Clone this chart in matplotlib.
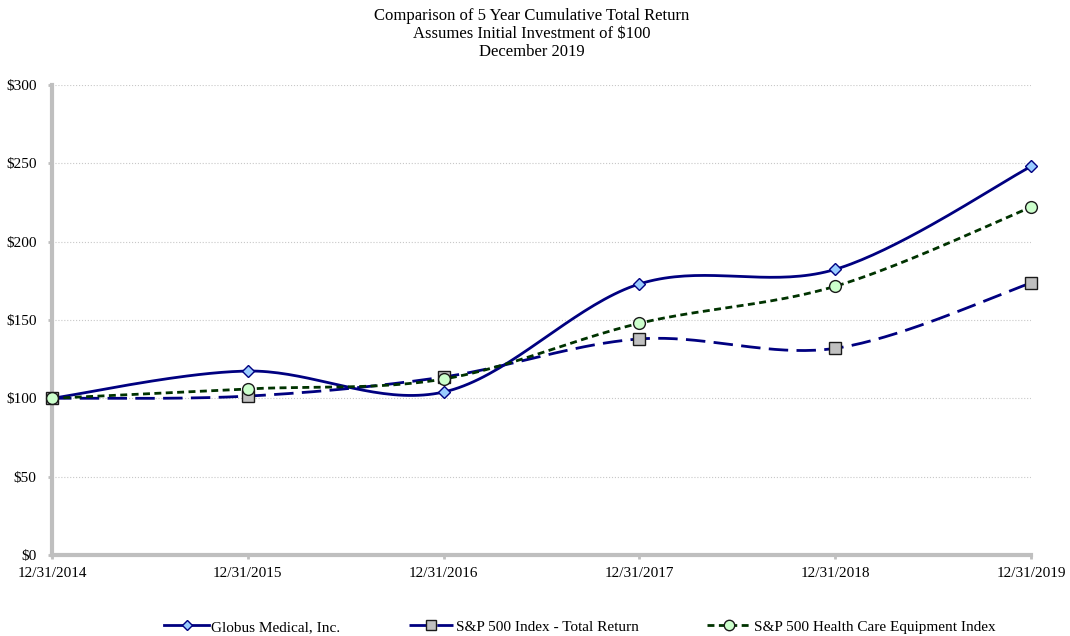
import numpy as np
import matplotlib.pyplot as plt
from matplotlib.lines import Line2D

# Datos
fechas = ["12/31/2014", "12/31/2015", "12/31/2016", "12/31/2017", "12/31/2018", "12/31/2019"]
globus = [100, 117.4, 104.0, 173.0, 182.3, 248.0]
sp500 = [100, 101.4, 113.6, 137.9, 131.9, 173.6]
hc_equip = [100, 106.0, 112.3, 147.9, 171.5, 222.0]

plt.rcParams["font.family"] = ["Liberation Serif", "DejaVu Serif"]


def suavizar(x, y, n=40):
    # curva tipo Excel (Catmull-Rom con tangentes a 1/6)
    x = np.asarray(x, float)
    y = np.asarray(y, float)
    px, py = [], []
    for i in range(len(x) - 1):
        x0, y0 = (x[i - 1], y[i - 1]) if i > 0 else (x[i], y[i])
        x3, y3 = (x[i + 2], y[i + 2]) if i + 2 < len(x) else (x[i + 1], y[i + 1])
        x1, y1, x2, y2 = x[i], y[i], x[i + 1], y[i + 1]
        c1x, c1y = x1 + (x2 - x0) / 6, y1 + (y2 - y0) / 6
        c2x, c2y = x2 - (x3 - x1) / 6, y2 - (y3 - y1) / 6
        t = np.linspace(0, 1, n)
        a, b, c, d = (1 - t) ** 3, 3 * t * (1 - t) ** 2, 3 * t ** 2 * (1 - t), t ** 3
        px.extend(a * x1 + b * c1x + c * c2x + d * x2)
        py.extend(a * y1 + b * c1y + c * c2y + d * y2)
    return np.array(px), np.array(py)


fig = plt.figure(figsize=(10.7, 6.36), dpi=100)
ax = fig.add_axes([0.0486, 0.1274, 0.915, 0.739])

xs = np.arange(len(fechas))
azul = "#000080"
verde = "#003300"

series = [
    (globus, azul, "-", "D", "#99ccff", 6.5, "Globus Medical, Inc."),
    (sp500, azul, (0, (7, 3)), "s", "#c0c0c0", 8, "S&P 500 Index - Total Return"),
    (hc_equip, verde, (0, (2.5, 1.6)), "o", "#ccffcc", 8.5, "S&P 500 Health Care Equipment Index"),
]

handles = []
for vals, col, ls, mk, fc, ms, lab in series:
    sx, sy = suavizar(xs, vals)
    ax.plot(sx, sy, color=col, linestyle=ls, linewidth=2.0, zorder=3)
    borde = col if mk == "D" else "#1a1a1a"
    ax.plot(xs, vals, linestyle="none", marker=mk, markersize=ms,
            markerfacecolor=fc, markeredgecolor=borde,
            markeredgewidth=1.0, zorder=6, clip_on=False)
    handles.append(Line2D([0], [0], color=col, linestyle=ls, linewidth=2.0, marker=mk,
                          markersize=ms - 1, markerfacecolor=fc,
                          markeredgecolor=borde, label=lab))

ax.set_xlim(0, len(fechas) - 1)
ax.set_ylim(0, 300)
ax.set_yticks(range(0, 301, 50))
ax.set_yticklabels(["$" + str(v) for v in range(0, 301, 50)], fontsize=11)
ax.set_xticks(xs)
ax.set_xticklabels(fechas, fontsize=11)
ax.yaxis.grid(True, color="#c8c8c8", linestyle=":", linewidth=0.8)
ax.set_axisbelow(True)

for s in ["top", "right"]:
    ax.spines[s].set_visible(False)
for s in ["left", "bottom"]:
    ax.spines[s].set_color("#bfbfbf")
    ax.spines[s].set_linewidth(3)
    ax.spines[s].set_zorder(5)
ax.tick_params(axis="x", color="#bfbfbf", length=3, width=2, pad=6)
ax.tick_params(axis="y", color="#bfbfbf", length=3, width=2, pad=8)

fig.text(0.497, 0.988, "Comparison of 5 Year Cumulative Total Return\nAssumes Initial Investment of $100\nDecember 2019",
         ha="center", va="top", fontsize=12, linespacing=1.2)

fig.legend(handles=handles, loc="lower center", bbox_to_anchor=(0.542, -0.018), ncol=3,
           frameon=False, fontsize=11, handlelength=2.9, handletextpad=0.15, columnspacing=4.5)

plt.savefig("out.png", dpi=100)
